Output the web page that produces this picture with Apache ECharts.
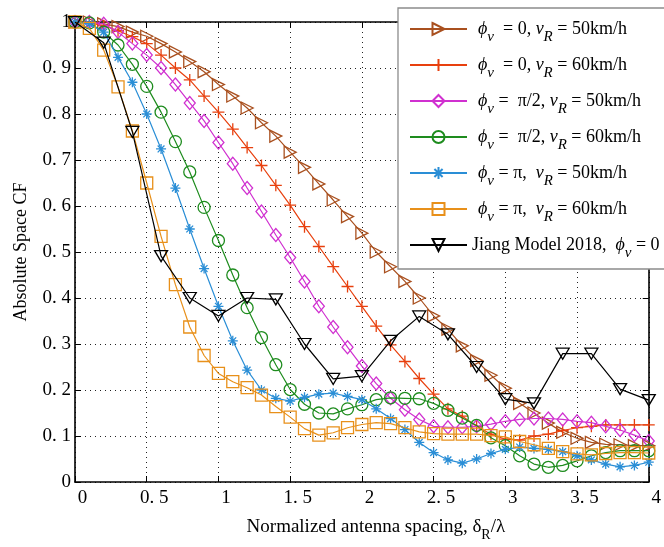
<!DOCTYPE html>
<html><head><meta charset="utf-8">
<script src="https://cdn.jsdelivr.net/npm/echarts@6/dist/echarts.min.js"></script>
<style>html,body{margin:0;padding:0;background:#fff}#c{width:664px;height:547px}</style>
</head><body><div id="c"></div><script>
// ---- data ----
const xs = [0,0.1,0.2,0.3,0.4,0.5,0.6,0.7,0.8,0.9,1,1.1,1.2,1.3,1.4,1.5,1.6,1.7,1.8,1.9,2,2.1,2.2,2.3,2.4,2.5,2.6,2.7,2.8,2.9,3,3.1,3.2,3.3,3.4,3.5,3.6,3.7,3.8,3.9,4];
const xsJiang = [0,0.2,0.4,0.6,0.8,1,1.2,1.4,1.6,1.8,2,2.2,2.4,2.6,2.8,3,3.2,3.4,3.6,3.8,4];
const phi0_v50 = [1.0,1.0,0.996,0.99,0.978,0.969,0.953,0.935,0.914,0.892,0.864,0.839,0.813,0.781,0.752,0.717,0.684,0.648,0.613,0.577,0.541,0.50,0.468,0.436,0.40,0.361,0.332,0.296,0.264,0.232,0.204,0.171,0.15,0.128,0.108,0.095,0.086,0.082,0.081,0.079,0.079];
const phi0_v60 = [1.0,0.998,0.992,0.981,0.968,0.953,0.928,0.90,0.874,0.839,0.804,0.767,0.727,0.688,0.645,0.602,0.555,0.512,0.468,0.425,0.382,0.339,0.298,0.262,0.225,0.191,0.159,0.143,0.121,0.104,0.093,0.091,0.10,0.104,0.112,0.118,0.121,0.124,0.124,0.124,0.124];
const phiHalfPi_v50 = [1.0,1.0,0.996,0.978,0.953,0.928,0.90,0.864,0.824,0.785,0.738,0.692,0.639,0.588,0.537,0.488,0.436,0.382,0.337,0.293,0.252,0.214,0.182,0.157,0.136,0.121,0.119,0.119,0.121,0.126,0.132,0.136,0.138,0.138,0.136,0.132,0.129,0.121,0.113,0.102,0.089];
const phiHalfPi_v60 = [1.0,0.998,0.978,0.95,0.908,0.86,0.804,0.74,0.674,0.597,0.525,0.45,0.379,0.314,0.255,0.201,0.169,0.15,0.148,0.159,0.168,0.179,0.183,0.182,0.181,0.171,0.156,0.139,0.123,0.096,0.079,0.057,0.039,0.032,0.036,0.046,0.057,0.064,0.068,0.068,0.068];
const phiPi_v50 = [1.0,0.996,0.978,0.923,0.869,0.80,0.724,0.639,0.55,0.464,0.382,0.307,0.243,0.20,0.182,0.176,0.184,0.191,0.193,0.186,0.179,0.159,0.138,0.114,0.086,0.064,0.048,0.041,0.05,0.062,0.071,0.076,0.073,0.071,0.066,0.057,0.048,0.039,0.033,0.036,0.043];
const phiPi_v60 = [1.0,0.986,0.939,0.859,0.763,0.65,0.534,0.429,0.337,0.275,0.236,0.218,0.205,0.189,0.164,0.141,0.116,0.102,0.107,0.118,0.125,0.129,0.127,0.118,0.109,0.105,0.104,0.104,0.104,0.101,0.098,0.088,0.081,0.073,0.066,0.061,0.059,0.062,0.064,0.064,0.063];
const jiang2018 = [1.0,0.955,0.761,0.491,0.40,0.361,0.40,0.397,0.30,0.224,0.23,0.307,0.36,0.321,0.25,0.18,0.171,0.279,0.279,0.202,0.178];

const seriesNames = ['s1','s2','s3','s4','s5','s6','s7'];
const legendTexts = [
  '{i|ϕ}{s|v}{n|  = 0, }{i|v}{s|R}{n| = 50km/h}',
  '{i|ϕ}{s|v}{n|  = 0, }{i|v}{s|R}{n| = 60km/h}',
  '{i|ϕ}{s|v}{n| =  π/2, }{i|v}{s|R}{n| = 50km/h}',
  '{i|ϕ}{s|v}{n| =  π/2, }{i|v}{s|R}{n| = 60km/h}',
  '{i|ϕ}{s|v}{n| = π,  }{i|v}{s|R}{n| = 50km/h}',
  '{i|ϕ}{s|v}{n| = π,  }{i|v}{s|R}{n| = 60km/h}',
  '{n|Jiang Model 2018,  }{i|ϕ}{s|v}{n| = 0}'
];
const xTickLabels = {0:'0',0.5:'0. 5',1:'1',1.5:'1. 5',2:'2',2.5:'2. 5',3:'3',3.5:'3. 5',4:'4'};
const yTickLabels = {0:'0',0.1:'0. 1',0.2:'0. 2',0.3:'0. 3',0.4:'0. 4',0.5:'0. 5',0.6:'0. 6',0.7:'0. 7',0.8:'0. 8',0.9:'0. 9',1:'1'};
const xTitle = '{n|Normalized antenna spacing, δ}{s|R}{n|/λ}';
const yTitle = 'Absolute Space CF';

// ---- styles ----
const FONT = 'Liberation Serif';
const colors = ['#A9501F','#E8400E','#D030D0','#1E8C1E','#2A8ED6','#E8901A','#000000'];
const symbols = [
  'path://M0,0 L10,5 L0,10 Z',
  'path://M5,0 L5,10 M0,5 L10,5',
  'path://M5,0 L10,5 L5,10 L0,5 Z',
  'path://M10,5 A5,5 0 1,1 0,5 A5,5 0 1,1 10,5 Z',
  'path://M5,0 L5,10 M0,5 L10,5 M1.6,1.6 L8.4,8.4 M8.4,1.6 L1.6,8.4',
  'path://M0,0 L10,0 L10,10 L0,10 Z',
  'path://M0,0 L10,0 L5,9 Z'
];
const sizes = [[12,12],[12,12],[11,13],[12,12],[10,10],[12,12],[13,11]];
const dataSets = [phi0_v50, phi0_v60, phiHalfPi_v50, phiHalfPi_v60, phiPi_v50, phiPi_v60];

const series = [];
for (let k = 0; k < 7; k++) {
  const xsK = k === 6 ? xsJiang : xs;
  const ys = k === 6 ? jiang2018 : dataSets[k];
  series.push({
    name: seriesNames[k], type: 'line', xAxisIndex: 0, yAxisIndex: 0,
    data: xsK.map((x, i) => [x, ys[i]]),
    symbol: symbols[k], symbolSize: sizes[k], showAllSymbol: true,
    lineStyle: { color: colors[k], width: 1.2 },
    itemStyle: { color: 'rgba(0,0,0,0)', borderColor: colors[k], borderWidth: 1.3 },
    emphasis: { disabled: true }, animation: false, z: 3 + k
  });
}

const richLegend = {
  n: { fontFamily: FONT, fontSize: 18, color: '#000', lineHeight: 32 },
  i: { fontFamily: FONT, fontSize: 18, fontStyle: 'italic', color: '#000', lineHeight: 32 },
  s: { fontFamily: FONT, fontSize: 15, fontStyle: 'italic', color: '#000', lineHeight: 15, verticalAlign: 'bottom' }
};
const richTitle = {
  n: { fontFamily: FONT, fontSize: 19, color: '#000', lineHeight: 30 },
  s: { fontFamily: FONT, fontSize: 14, color: '#000', lineHeight: 14, verticalAlign: 'bottom' }
};

const chart = echarts.init(document.getElementById('c'));
chart.setOption({
  backgroundColor: '#fff',
  animation: false,
  grid: { left: 75, right: 11, top: 22, bottom: 59 },
  xAxis: [{
    type: 'value', min: 0, max: 4, interval: 0.5, position: 'bottom',
    axisLine: { show: true, onZero: false, lineStyle: { color: '#000', width: 1.6 } },
    axisTick: { show: true, inside: true, length: 6, lineStyle: { color: '#000', width: 1 } },
    axisLabel: { fontFamily: FONT, fontSize: 19, color: '#000', margin: 7, padding: [0,0,0,15],
      formatter: v => xTickLabels[v] !== undefined ? xTickLabels[v] : String(v) },
    splitLine: { show: true, lineStyle: { color: '#222', width: 1, type: [1, 4] } },
    name: xTitle, nameLocation: 'middle', nameGap: 30,
    nameTextStyle: { rich: richTitle, padding: [0, 0, 0, 28] }
  }, {
    type: 'value', min: 0, max: 4, interval: 0.5, position: 'top',
    axisLine: { show: true, onZero: false, lineStyle: { color: '#000', width: 1.6 } },
    axisTick: { show: true, inside: true, length: 6, lineStyle: { color: '#000', width: 1 } },
    axisLabel: { show: false }, splitLine: { show: false }
  }],
  yAxis: [{
    type: 'value', min: 0, max: 1, interval: 0.1, position: 'left',
    axisLine: { show: true, onZero: false, lineStyle: { color: '#000', width: 1.6 } },
    axisTick: { show: true, inside: true, length: 6, lineStyle: { color: '#000', width: 1 } },
    axisLabel: { fontFamily: FONT, fontSize: 19, color: '#000', margin: 4,
      formatter: v => { const key = Math.round(v * 10) / 10; return yTickLabels[key] !== undefined ? yTickLabels[key] : String(v); } },
    splitLine: { show: true, lineStyle: { color: '#222', width: 1, type: [1, 4] } },
    name: yTitle, nameLocation: 'middle', nameGap: 45,
    nameTextStyle: { fontFamily: FONT, fontSize: 18, color: '#000' }
  }, {
    type: 'value', min: 0, max: 1, interval: 0.1, position: 'right',
    axisLine: { show: true, onZero: false, lineStyle: { color: '#000', width: 1.6 } },
    axisTick: { show: true, inside: true, length: 6, lineStyle: { color: '#000', width: 1 } },
    axisLabel: { show: false }, splitLine: { show: false }
  }],
  legend: {
    orient: 'vertical', left: 398, top: 8,
    backgroundColor: '#fff', borderColor: '#8c8c8c', borderWidth: 1.3,
    padding: [12, 40, 8, 11],
    itemWidth: 57, itemHeight: 15, itemGap: 11,
    selectedMode: false,
    data: seriesNames.map((n, k) => (k === 6 ? { name: n, textStyle: { padding: [0, 0, 0, 0] } } : { name: n })),
    formatter: name => legendTexts[seriesNames.indexOf(name)],
    textStyle: { rich: richLegend, padding: [0, 0, 0, 6] },
    z: 20
  },
  series: series
});
</script></body></html>
